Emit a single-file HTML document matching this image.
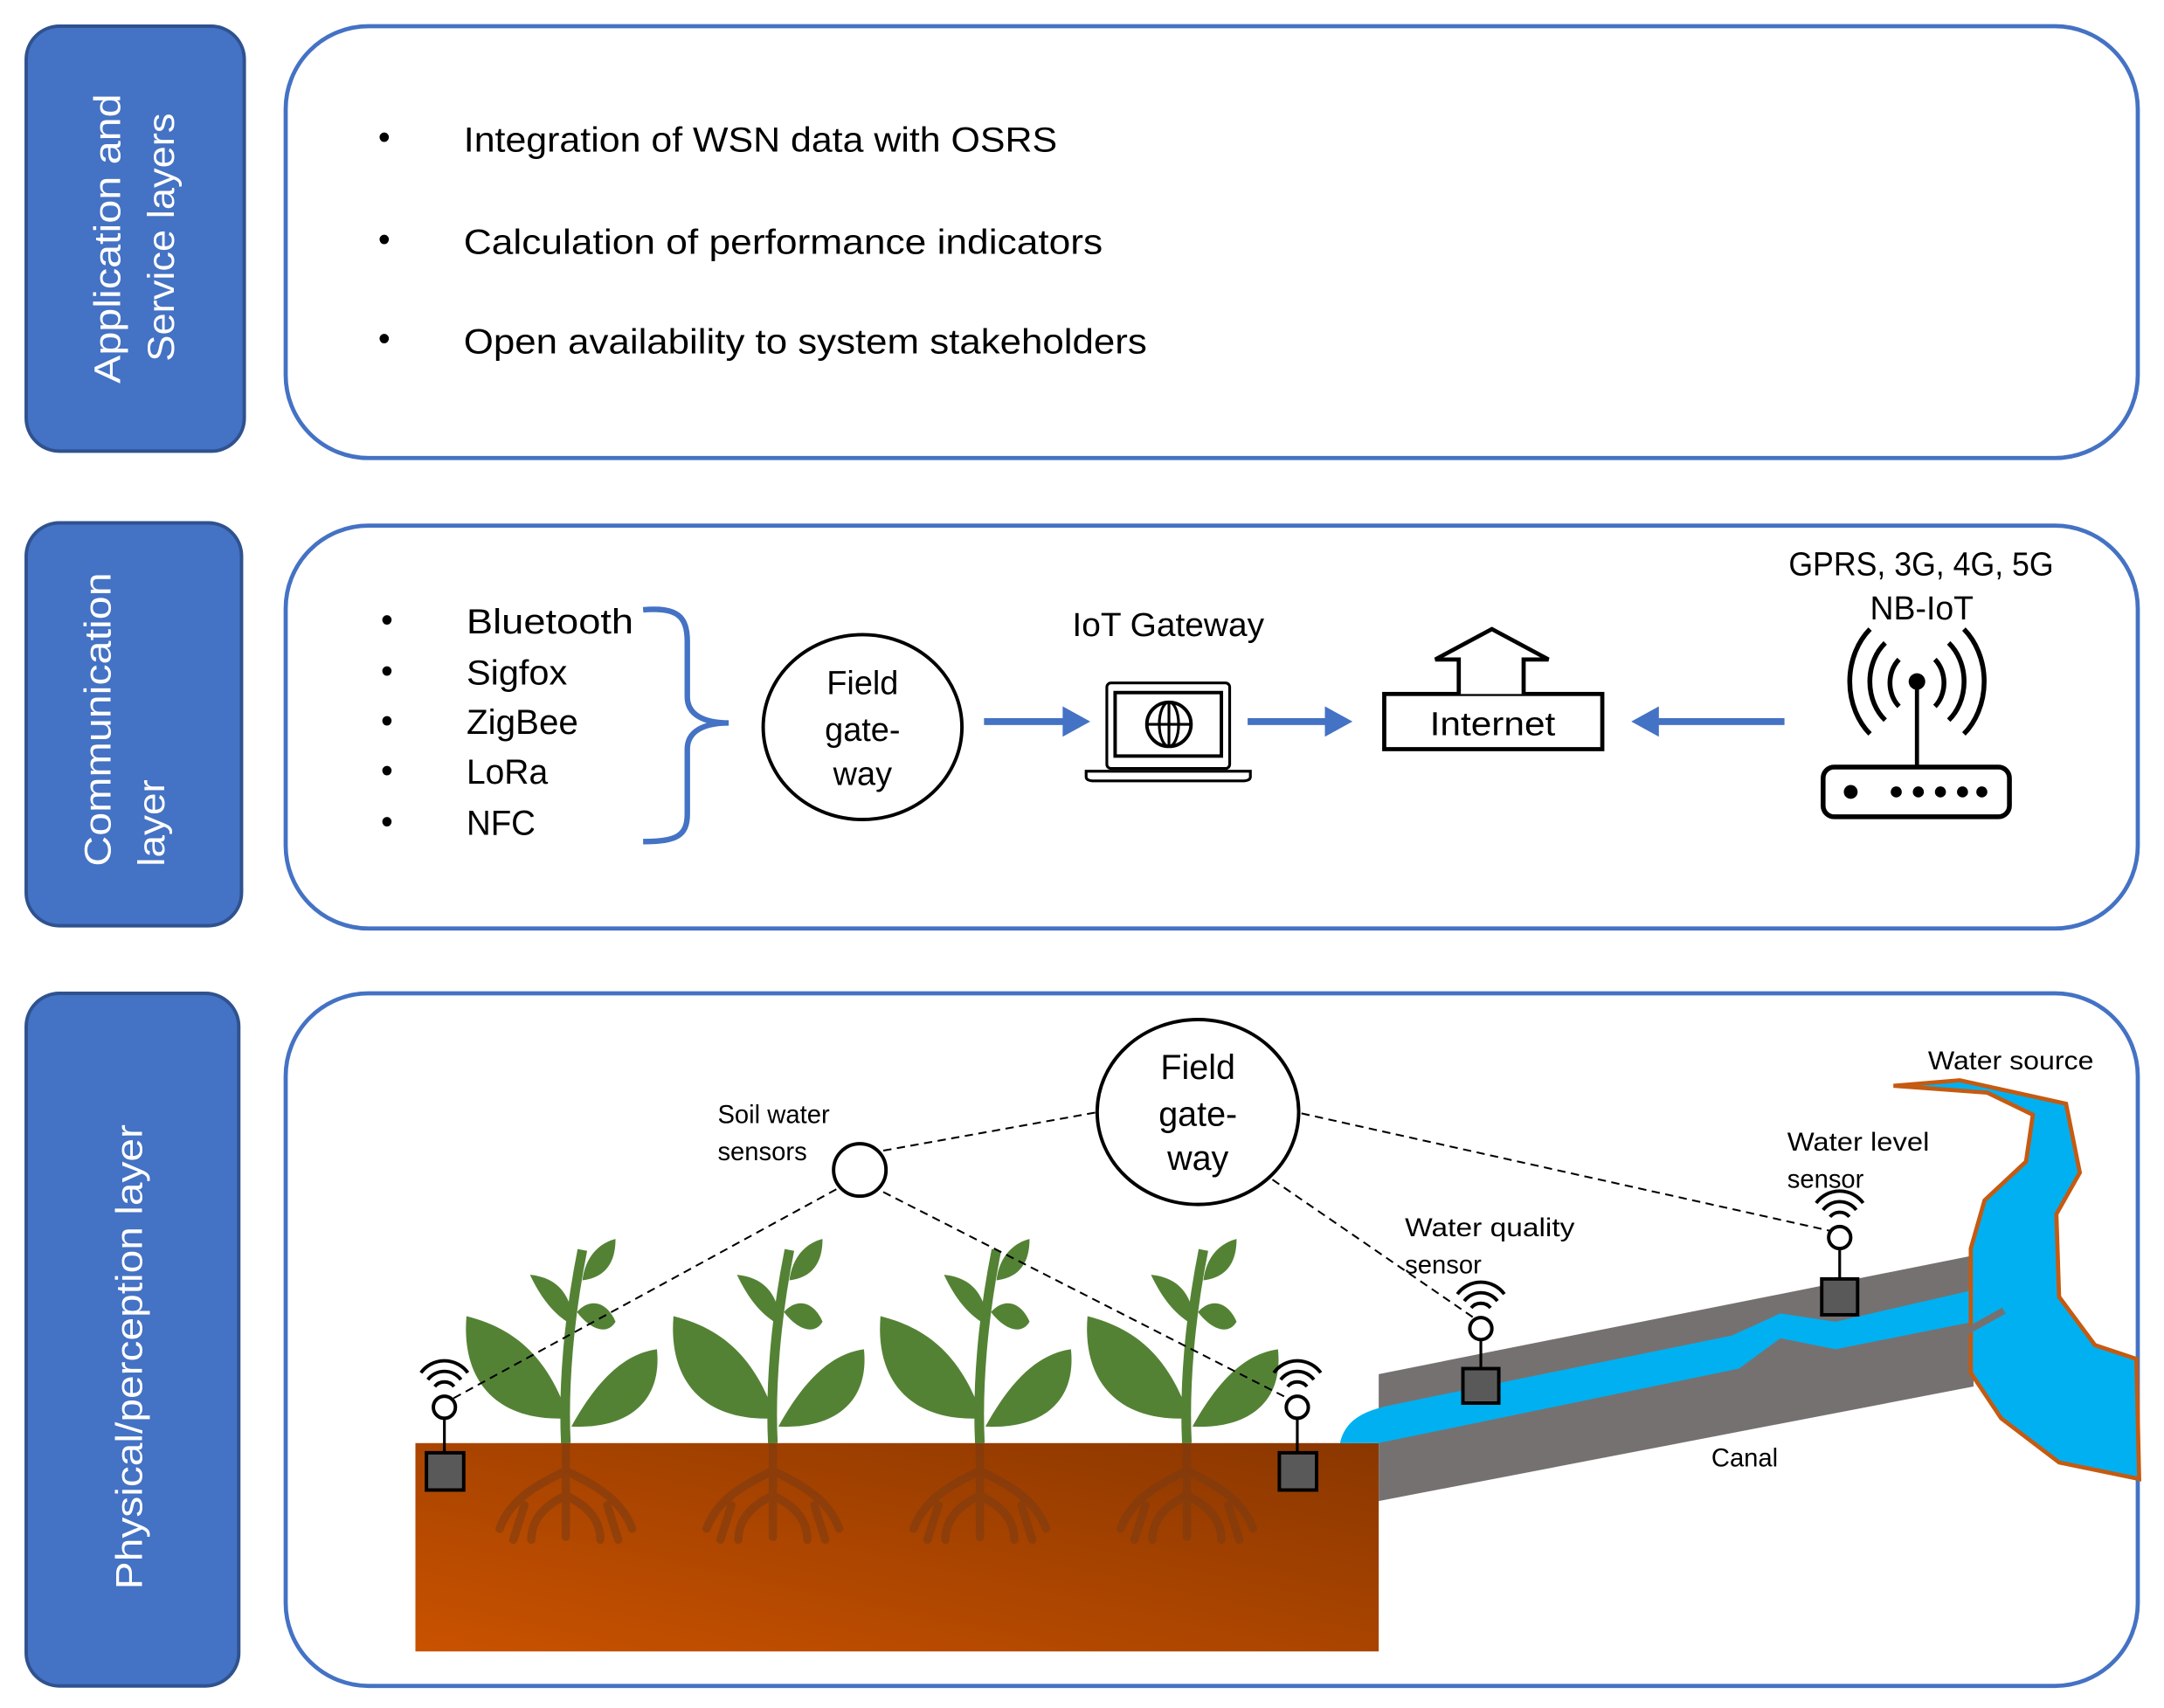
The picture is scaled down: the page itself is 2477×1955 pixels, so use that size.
<!DOCTYPE html>
<html><head><meta charset="utf-8"><style>
html,body{margin:0;padding:0;background:#fff;}
svg{display:block;}
text{font-family:"Liberation Sans",sans-serif;}
</style></head><body>
<svg width="2477" height="1955" viewBox="0 0 1568 1238" preserveAspectRatio="none" xmlns="http://www.w3.org/2000/svg">
<defs>
<linearGradient id="soil" x1="0" y1="1" x2="1" y2="0">
<stop offset="0" stop-color="#C95200"/><stop offset="1" stop-color="#8A3700"/>
</linearGradient>
<g id="wifi" fill="none" stroke="#000" stroke-width="2.5">
<path d="M-7,-5 A9,9 0 0 1 7,-5"/><path d="M-12,-10 A15,15 0 0 1 12,-10"/><path d="M-17,-15 A21,21 0 0 1 17,-15"/>
</g>
<g id="plant">
<g opacity="0.55" stroke="#7a3a12" stroke-width="6" stroke-linecap="round" fill="none">
<path d="M0,0 L0,68 M0,20 C-20,30 -40,40 -48,62 M0,20 C20,30 40,40 48,62 M0,38 C-15,45 -25,55 -25,70 M0,38 C15,45 25,55 25,70 M-30,45 L-38,70 M30,45 L38,70"/>
</g>
<path d="M0,0 C-2,-40 2,-90 12,-140" stroke="#548235" stroke-width="7" fill="none"/>
<path d="M2,-18 C-15,-70 -45,-85 -72,-92 C-76,-45 -50,-15 2,-18Z" fill="#548235"/>
<path d="M4,-12 C25,-50 45,-65 66,-68 C70,-30 45,-10 4,-12Z" fill="#548235"/>
<path d="M6,-85 C-8,-92 -18,-105 -26,-122 C-6,-120 4,-108 6,-85Z" fill="#548235"/>
<path d="M8,-95 C18,-82 30,-78 36,-88 C30,-102 18,-106 8,-95Z" fill="#548235"/>
<path d="M12,-118 C14,-135 24,-145 36,-148 C36,-130 28,-120 12,-118Z" fill="#548235"/>
</g>
</defs>

<rect x="19" y="19" width="158" height="308" rx="24" fill="#4472C4" stroke="#2F528F" stroke-width="2.5"/>
<text transform="translate(87,278) rotate(-90)" fill="#fff" font-size="27" textLength="210" lengthAdjust="spacingAndGlyphs">Application and</text>
<text transform="translate(126,262) rotate(-90)" fill="#fff" font-size="27" textLength="180" lengthAdjust="spacingAndGlyphs">Service layers</text>
<rect x="19" y="379" width="156" height="292" rx="24" fill="#4472C4" stroke="#2F528F" stroke-width="2.5"/>
<text transform="translate(80,628) rotate(-90)" fill="#fff" font-size="27" textLength="213" lengthAdjust="spacingAndGlyphs">Communication</text>
<text transform="translate(119,628) rotate(-90)" fill="#fff" font-size="27" textLength="63" lengthAdjust="spacingAndGlyphs">layer</text>
<rect x="19" y="720" width="154" height="502" rx="24" fill="#4472C4" stroke="#2F528F" stroke-width="2.5"/>
<text transform="translate(103,1152) rotate(-90)" fill="#fff" font-size="27" textLength="337" lengthAdjust="spacingAndGlyphs">Physical/perception layer</text>

<rect x="207" y="19" width="1342" height="313" rx="60" fill="#fff" stroke="#4472C4" stroke-width="3"/>
<rect x="207" y="381" width="1342" height="292" rx="60" fill="#fff" stroke="#4472C4" stroke-width="3"/>
<rect x="207" y="720" width="1342" height="502" rx="60" fill="#fff" stroke="#4472C4" stroke-width="3"/>

<g font-size="25" fill="#000">
<text x="274" y="108">•</text><text x="336" y="110" textLength="430" lengthAdjust="spacingAndGlyphs">Integration of WSN data with OSRS</text>
<text x="274" y="182">•</text><text x="336" y="184" textLength="463" lengthAdjust="spacingAndGlyphs">Calculation of performance indicators</text>
<text x="274" y="254">•</text><text x="336" y="256" textLength="495" lengthAdjust="spacingAndGlyphs">Open availability to system stakeholders</text>
</g>

<g font-size="25" fill="#000">
<text x="276" y="458">•</text><text x="338" y="459" textLength="121" lengthAdjust="spacingAndGlyphs">Bluetooth</text>
<text x="276" y="495">•</text><text x="338" y="496" textLength="73" lengthAdjust="spacingAndGlyphs">Sigfox</text>
<text x="276" y="531">•</text><text x="338" y="532" textLength="81" lengthAdjust="spacingAndGlyphs">ZigBee</text>
<text x="276" y="567">•</text><text x="338" y="568" textLength="59" lengthAdjust="spacingAndGlyphs">LoRa</text>
<text x="276" y="604">•</text><text x="338" y="605" textLength="50" lengthAdjust="spacingAndGlyphs">NFC</text>
</g>
<path d="M466,442 C490,440 498,446 498,465 L498,505 C498,518 510,524 528,524 C510,524 498,530 498,543 L498,590 C498,606 490,610 466,610" fill="none" stroke="#4472C4" stroke-width="4"/>
<ellipse cx="625" cy="527" rx="72" ry="67" fill="#fff" stroke="#000" stroke-width="2.5"/>
<g font-size="24" text-anchor="middle"><text x="625" y="503">Field</text><text x="625" y="537">gate-</text><text x="625" y="569">way</text></g>
<line x1="713" y1="523" x2="772" y2="523" stroke="#4472C4" stroke-width="5"/><path d="M770,512 L790,523 L770,534Z" fill="#4472C4"/>
<line x1="904" y1="523" x2="962" y2="523" stroke="#4472C4" stroke-width="5"/><path d="M960,512 L980,523 L960,534Z" fill="#4472C4"/>
<line x1="1293" y1="523" x2="1200" y2="523" stroke="#4472C4" stroke-width="5"/><path d="M1202,512 L1182,523 L1202,534Z" fill="#4472C4"/>
<text x="777" y="461" font-size="24" textLength="139" lengthAdjust="spacingAndGlyphs">IoT Gateway</text>
<rect x="802" y="495" width="89" height="62" rx="3" fill="none" stroke="#000" stroke-width="2"/>
<rect x="808" y="502" width="77" height="46" fill="none" stroke="#000" stroke-width="2.5"/>
<path d="M787,559 L906,559 L906,563 Q906,566 900,566 L793,566 Q787,566 787,563Z" fill="none" stroke="#000" stroke-width="2"/>
<circle cx="847" cy="525" r="16" fill="none" stroke="#000" stroke-width="2.5"/>
<ellipse cx="847" cy="525" rx="7" ry="16" fill="none" stroke="#000" stroke-width="2"/>
<line x1="831" y1="525" x2="863" y2="525" stroke="#000" stroke-width="2"/>
<line x1="847" y1="509" x2="847" y2="541" stroke="#000" stroke-width="2"/>
<rect x="1003" y="503" width="158" height="40" fill="#fff" stroke="#000" stroke-width="3"/>
<path d="M1057,503 L1057,478 L1040,478 L1081,456 L1122,478 L1104,478 L1104,503" fill="#fff" stroke="#000" stroke-width="3"/>
<text x="1036" y="533" font-size="24" textLength="91" lengthAdjust="spacingAndGlyphs">Internet</text>
<text x="1296" y="417" font-size="24" textLength="192" lengthAdjust="spacingAndGlyphs">GPRS, 3G, 4G, 5G</text>
<text x="1355" y="449" font-size="24" textLength="75" lengthAdjust="spacingAndGlyphs">NB-IoT</text>
<rect x="1321" y="556" width="135" height="36" rx="8" fill="none" stroke="#000" stroke-width="3.5"/>
<circle cx="1341" cy="574" r="5"/><circle cx="1374" cy="574" r="4"/><circle cx="1390" cy="574" r="4"/><circle cx="1406" cy="574" r="4"/><circle cx="1422" cy="574" r="4"/><circle cx="1436" cy="574" r="4"/>
<line x1="1389" y1="494" x2="1389" y2="556" stroke="#000" stroke-width="3"/>
<circle cx="1389" cy="494" r="6"/>
<g fill="none" stroke="#000" stroke-width="3.5">
<path d="M1376,478 A18,22 0 0 0 1376,512"/><path d="M1402,478 A18,22 0 0 1 1402,512"/>
<path d="M1366,466 A30,36 0 0 0 1366,522"/><path d="M1412,466 A30,36 0 0 1 1412,522"/>
<path d="M1355,456 A42,50 0 0 0 1355,532"/><path d="M1423,456 A42,50 0 0 1 1423,532"/>
</g>

<rect x="301" y="1046" width="698" height="151" fill="url(#soil)"/>
<use href="#plant" x="410" y="1046"/>
<use href="#plant" x="560" y="1046"/>
<use href="#plant" x="710" y="1046"/>
<use href="#plant" x="860" y="1046"/>
<polygon points="999,996 1430,910 1430,1005 999,1088" fill="#767171"/>
<path d="M971,1046 C975,1028 990,1022 1010,1018 L1255,968 L1290,952 L1330,958 L1430,935 L1430,958 L1330,978 L1290,970 L1260,992 L999,1046Z" fill="#00B0F0"/>
<path d="M1372,787 L1420,783 L1497,800 L1507,850 L1490,880 L1492,940 L1518,975 L1548,985 L1550,1072 L1492,1060 L1450,1028 L1428,995 L1428,905 L1438,870 L1468,842 L1473,808 L1440,792 Z" fill="#00B0F0" stroke="#C55A11" stroke-width="3"/>
<line x1="1425" y1="965" x2="1452" y2="950" stroke="#767171" stroke-width="5"/>
<g stroke="#000" stroke-width="1.3" stroke-dasharray="6,4" fill="none">
<line x1="640" y1="834" x2="796" y2="806"/>
<line x1="943" y1="807" x2="1330" y2="893"/>
<line x1="922" y1="855" x2="1072" y2="958"/>
<line x1="606" y1="862" x2="324" y2="1016"/>
<line x1="640" y1="864" x2="938" y2="1016"/>
</g>
<ellipse cx="868" cy="806" rx="73" ry="67" fill="#fff" stroke="#000" stroke-width="2.5"/>
<g font-size="25" text-anchor="middle"><text x="868" y="782">Field</text><text x="868" y="816">gate-</text><text x="868" y="848">way</text></g>
<circle cx="623" cy="848" r="19" fill="#fff" stroke="#000" stroke-width="2.5"/>
<g stroke="#000" stroke-width="2">
<line x1="322" y1="1028" x2="322" y2="1054"/><circle cx="322" cy="1020" r="8" fill="#fff" stroke-width="2.5"/><rect x="309" y="1053" width="27" height="27" fill="#595959" stroke-width="2.5"/>
<line x1="940" y1="1028" x2="940" y2="1054"/><circle cx="940" cy="1020" r="8" fill="#fff" stroke-width="2.5"/><rect x="927" y="1053" width="27" height="27" fill="#595959" stroke-width="2.5"/>
<line x1="1073" y1="971" x2="1073" y2="993"/><circle cx="1073" cy="963" r="8" fill="#fff" stroke-width="2.5"/><rect x="1060" y="992" width="26" height="25" fill="#595959" stroke-width="2.5"/>
<line x1="1333" y1="905" x2="1333" y2="928"/><circle cx="1333" cy="897" r="8" fill="#fff" stroke-width="2.5"/><rect x="1320" y="927" width="26" height="26" fill="#595959" stroke-width="2.5"/>
</g>
<use href="#wifi" x="322" y="1010"/><use href="#wifi" x="940" y="1010"/><use href="#wifi" x="1073" y="953"/><use href="#wifi" x="1333" y="887"/>
<g font-size="18.5">
<text x="520" y="814">Soil water</text><text x="520" y="841">sensors</text>
<text x="1018" y="896" textLength="123" lengthAdjust="spacingAndGlyphs">Water quality</text><text x="1018" y="923">sensor</text>
<text x="1295" y="834" textLength="103" lengthAdjust="spacingAndGlyphs">Water level</text><text x="1295" y="861">sensor</text>
<text x="1397" y="775" textLength="120" lengthAdjust="spacingAndGlyphs">Water source</text>
<text x="1240" y="1063">Canal</text>
</g>
</svg>
</body></html>
